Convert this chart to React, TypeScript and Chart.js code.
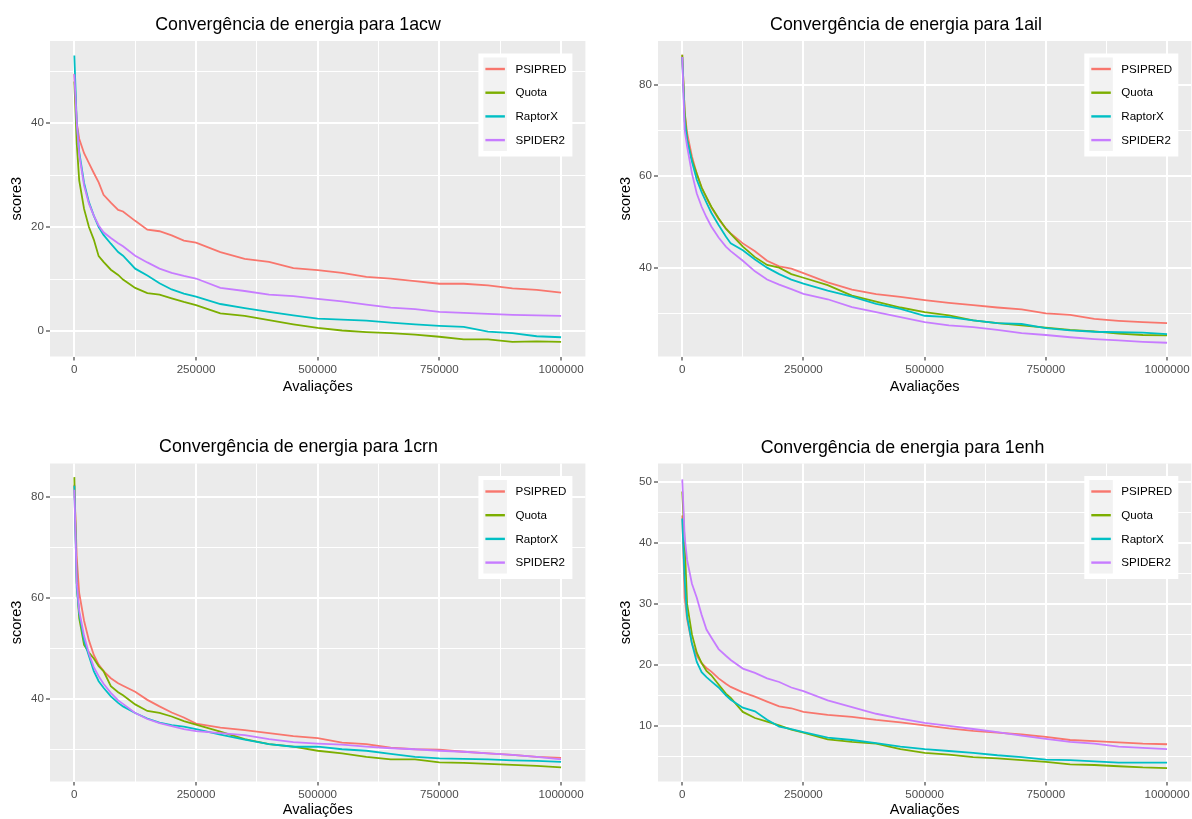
import React, { useEffect, useRef } from "react";
import { Chart, registerables } from "chart.js";

Chart.register(...registerables);

const FONT = '"Liberation Sans", Arial, Helvetica, sans-serif';

// ---------- data ----------
const evaluations = [
  0, 5000, 10000, 20000, 30000, 40000, 50000, 60000, 75000, 90000, 100000,
  125000, 150000, 175000, 200000, 225000, 250000, 300000, 350000, 400000,
  450000, 500000, 550000, 600000, 650000, 700000, 750000, 800000, 850000,
  900000, 950000, 1000000,
];

const methodNames = ["PSIPRED", "Quota", "RaptorX", "SPIDER2"];
const methodColors = ["#F8766D", "#7CAE00", "#00BFC4", "#C77CFF"];

const xMajorTicks = [0, 250000, 500000, 750000, 1000000];
const xMinorTicks = [125000, 375000, 625000, 875000];
const xLabel = "Avaliações";
const yLabel = "score3";

// 1acw
const acwPsipred = [49.5, 40, 37, 34.2, 32.3, 30.4, 28.6, 26.2, 24.7, 23.3, 23.0, 21.2, 19.5, 19.2, 18.4, 17.4, 17.0, 15.2, 13.9, 13.3, 12.1, 11.7, 11.2, 10.4, 10.1, 9.6, 9.1, 9.1, 8.8, 8.2, 7.9, 7.4];
const acwQuota = [48, 36, 29, 23.5, 20.0, 17.6, 14.4, 13.3, 11.8, 10.8, 9.9, 8.3, 7.3, 7.0, 6.3, 5.6, 5.0, 3.4, 2.9, 2.1, 1.3, 0.6, 0.1, -0.2, -0.4, -0.7, -1.1, -1.6, -1.6, -2.1, -2.0, -2.1];
const acwRaptorX = [53, 40, 34.5, 28.5, 24.8, 22.2, 20.0, 18.5, 16.8, 15.2, 14.5, 12.0, 10.7, 9.2, 8.0, 7.2, 6.6, 5.2, 4.4, 3.7, 3.0, 2.4, 2.2, 2.0, 1.6, 1.3, 1.0, 0.8, -0.1, -0.4, -1.0, -1.2];
const acwSpider2 = [49.4, 40, 34, 28, 24.5, 22.2, 20.3, 19.0, 17.9, 16.9, 16.3, 14.5, 13.2, 12.0, 11.2, 10.6, 10.1, 8.3, 7.7, 7.0, 6.7, 6.2, 5.7, 5.1, 4.5, 4.2, 3.7, 3.5, 3.3, 3.1, 3.0, 2.9];
const acwYMajor = [0, 20, 40];
const acwYMinor = [10, 30, 50];
const acwYRange = [-4.9, 55.8];

// 1ail
const ailPsipred = [86.5, 74, 69.4, 64.3, 60.5, 57.5, 55.2, 53.2, 50.6, 48.6, 47.5, 45.3, 43.6, 41.5, 40.3, 39.8, 38.8, 36.8, 35.2, 34.2, 33.6, 32.9, 32.3, 31.8, 31.3, 30.9, 30.0, 29.7, 28.8, 28.4, 28.1, 27.9];
const ailQuota = [86.5, 74, 68, 63.5, 60.5, 57.5, 55.4, 53.3, 50.8, 48.5, 47.4, 44.6, 42.3, 40.6, 40.0, 38.6, 37.8, 36.2, 33.9, 32.6, 31.3, 30.3, 29.6, 28.5, 27.9, 27.4, 26.9, 26.4, 26.1, 25.6, 25.3, 25.2];
const ailRaptorX = [86, 72, 67.9, 63.2, 59.2, 56.5, 54.2, 52.0, 49.3, 46.8, 45.3, 43.8, 41.8, 40.0, 38.6, 37.4, 36.5, 35.0, 33.7, 32.1, 31.0, 29.5, 29.2, 28.5, 27.9, 27.7, 26.8, 26.3, 26.0, 25.9, 25.8, 25.5];
const ailSpider2 = [86, 70, 66.5, 60.6, 56.2, 53.3, 51.0, 49.0, 46.6, 44.6, 43.6, 41.5, 39.2, 37.4, 36.3, 35.3, 34.3, 33.1, 31.4, 30.3, 29.2, 28.1, 27.4, 27.0, 26.4, 25.7, 25.3, 24.8, 24.4, 24.1, 23.8, 23.6];
const ailYMajor = [40, 60, 80];
const ailYMinor = [30, 50, 70];
const ailYRange = [20.6, 89.5];

// 1crn
const crnPsipred = [82.5, 68, 61, 55.5, 51.6, 48.7, 46.8, 45.5, 44.1, 43.1, 42.6, 41.4, 39.8, 38.5, 37.3, 36.3, 35.1, 34.3, 33.8, 33.2, 32.6, 32.2, 31.3, 31.0, 30.3, 30.0, 29.9, 29.5, 29.2, 28.9, 28.5, 28.3];
const crnQuota = [84, 63, 56, 50.7, 49.2, 48.0, 46.5, 45.5, 42.5, 41.3, 40.7, 38.9, 37.6, 37.2, 36.5, 35.6, 34.9, 33.5, 32.0, 31.0, 30.5, 29.7, 29.2, 28.5, 28.0, 28.0, 27.4, 27.3, 27.1, 26.9, 26.7, 26.4];
const crnRaptorX = [82.3, 62, 57, 51.5, 48.5, 45.5, 43.5, 42.2, 40.5, 39.2, 38.5, 37.2, 36.1, 35.3, 34.8, 34.5, 34.0, 32.9, 31.9, 31.0, 30.5, 30.5, 30.0, 29.7, 29.1, 28.5, 28.2, 28.1, 28.0, 27.8, 27.7, 27.5];
const crnSpider2 = [81.5, 63, 57.5, 52.5, 49, 46.3, 44.5, 43.0, 41.2, 39.7, 39.0, 37.2, 36.0, 35.2, 34.6, 34.0, 33.6, 33.2, 32.8, 32.0, 31.4, 31.1, 30.9, 30.5, 30.2, 30.0, 29.7, 29.5, 29.2, 28.9, 28.5, 28.0];
const crnYMajor = [40, 60, 80];
const crnYMinor = [30, 50, 70];
const crnYRange = [23.6, 86.7];

// 1enh
const enhPsipred = [44.5, 31, 27.5, 23.5, 21.5, 20.3, 19.5, 18.9, 17.8, 16.9, 16.4, 15.5, 14.8, 14.0, 13.2, 12.9, 12.3, 11.8, 11.5, 11.0, 10.6, 10.1, 9.6, 9.2, 8.9, 8.6, 8.2, 7.7, 7.5, 7.3, 7.1, 7.0];
const enhQuota = [48.4, 40, 30, 25, 22, 20.3, 19.0, 18.3, 16.8, 15.3, 14.6, 12.3, 11.3, 10.7, 10.1, 9.4, 8.9, 7.8, 7.4, 7.1, 6.2, 5.6, 5.3, 4.9, 4.7, 4.4, 4.1, 3.7, 3.6, 3.4, 3.2, 3.1];
const enhRaptorX = [44, 34, 28, 23.5, 20.5, 18.8, 18.0, 17.3, 16.3, 15.0, 14.3, 13.0, 12.4, 11.0, 9.9, 9.5, 9.0, 8.1, 7.7, 7.2, 6.6, 6.2, 5.9, 5.6, 5.2, 4.9, 4.5, 4.4, 4.2, 4.0, 4.0, 4.0];
const enhSpider2 = [50.4, 41, 37.2, 33.3, 31, 28.2, 25.8, 24.5, 22.6, 21.5, 20.8, 19.4, 18.7, 17.8, 17.2, 16.3, 15.7, 14.2, 13.1, 12.0, 11.2, 10.5, 10.0, 9.5, 9.0, 8.4, 7.9, 7.4, 7.1, 6.6, 6.4, 6.2];
const enhYMajor = [10, 20, 30, 40, 50];
const enhYMinor = [5, 15, 25, 35, 45];
const enhYRange = [0.9, 53.0];

// ---------- panel plugin (background, title, legend) ----------
const ggPanelPlugin = {
  id: "ggPanel",
  beforeDraw(chart: any, _args: any, opts: any) {
    const { ctx, chartArea: a } = chart;
    ctx.save();
    ctx.fillStyle = "#EBEBEB";
    ctx.fillRect(a.left, a.top, a.right - a.left, a.bottom - a.top);
    ctx.restore();
  },
  afterDraw(chart: any, _args: any, opts: any) {
    const { ctx, chartArea: a } = chart;
    ctx.save();
    ctx.fillStyle = "#000000";
    ctx.font = `17.8px ${FONT}`;
    ctx.textAlign = "center";
    ctx.textBaseline = "alphabetic";
    ctx.fillText(opts.title, opts.titleX, opts.titleY);

    const bw = 94;
    const bh = 103;
    const bx = a.right - 13 - bw;
    const by = a.top + 12.5;
    ctx.fillStyle = "#FFFFFF";
    ctx.fillRect(bx, by, bw, bh);
    ctx.fillStyle = "#F2F2F2";
    ctx.fillRect(bx + 5, by + 4, 23.5, 93.5);
    ctx.font = `11.6px ${FONT}`;
    ctx.textAlign = "left";
    ctx.textBaseline = "middle";
    chart.data.datasets.forEach((ds: any, i: number) => {
      const cy = by + 15.5 + i * 23.7;
      ctx.strokeStyle = ds.borderColor;
      ctx.lineWidth = 2.4;
      ctx.beginPath();
      ctx.moveTo(bx + 7, cy);
      ctx.lineTo(bx + 26.5, cy);
      ctx.stroke();
      ctx.fillStyle = "#000000";
      ctx.fillText(ds.label, bx + 37, cy + 0.5);
    });
    ctx.restore();
  },
};

type PanelProps = {
  title: string;
  series: number[][];
  yMajor: number[];
  yMinor: number[];
  yRange: number[];
  left: number;
  top: number;
  width: number;
  height: number;
  padTop: number;
  padRight: number;
  yAxisWidth: number;
  xAxisHeight: number;
  titleX: number;
  titleY: number;
  yTitlePad: number;
  xTitlePadBottom: number;
};

function Panel(p: PanelProps) {
  const ref = useRef<HTMLCanvasElement | null>(null);
  useEffect(() => {
    if (!ref.current) return;
    const xAll = [...xMajorTicks, ...xMinorTicks].sort((a, b) => a - b);
    const yAll = [...p.yMajor, ...p.yMinor].sort((a, b) => a - b);
    const chart = new Chart(ref.current, {
      type: "line",
      data: {
        datasets: methodNames.map((name, i) => ({
          label: name,
          data: evaluations.map((x, j) => ({ x, y: p.series[i][j] })),
          borderColor: methodColors[i],
          backgroundColor: methodColors[i],
          borderWidth: 1.8,
          pointRadius: 0,
          tension: 0,
          fill: false,
          order: 3 - i,
        })),
      },
      options: {
        animation: false,
        responsive: false,
        devicePixelRatio: 1,
        layout: { padding: { left: 0, right: p.padRight, top: p.padTop, bottom: 0 } },
        plugins: {
          legend: { display: false },
          tooltip: { enabled: false },
          title: { display: false },
          ggPanel: { title: p.title, titleX: p.titleX, titleY: p.titleY },
        } as any,
        scales: {
          x: {
            type: "linear",
            min: -50000,
            max: 1050000,
            afterBuildTicks: (s: any) => {
              s.ticks = xAll.map((v) => ({ value: v }));
            },
            afterFit: (s: any) => {
              s.height = p.xAxisHeight;
            },
            ticks: {
              autoSkip: false,
              maxRotation: 0,
              padding: 2,
              color: "#4D4D4D",
              font: { family: FONT, size: 11.6 },
              callback: (v: any) => (xMajorTicks.includes(v) ? String(v) : ""),
            },
            grid: {
              color: "#FFFFFF",
              lineWidth: (c: any) => (c.tick && xMajorTicks.includes(c.tick.value) ? 2 : 1),
              tickLength: 4,
              tickWidth: 1.1,
              tickColor: (c: any) =>
                c.tick && xMajorTicks.includes(c.tick.value) ? "#333333" : "rgba(0,0,0,0)",
            },
            border: { display: false },
            title: {
              display: true,
              text: xLabel,
              color: "#000000",
              font: { family: FONT, size: 14.5 },
              padding: { top: 0, bottom: p.xTitlePadBottom },
            },
          },
          y: {
            type: "linear",
            min: p.yRange[0],
            max: p.yRange[1],
            afterBuildTicks: (s: any) => {
              s.ticks = yAll.map((v) => ({ value: v }));
            },
            afterFit: (s: any) => {
              s.width = p.yAxisWidth;
            },
            ticks: {
              autoSkip: false,
              padding: 2,
              color: "#4D4D4D",
              font: { family: FONT, size: 11.6 },
              callback: (v: any) => (p.yMajor.includes(v) ? String(v) : ""),
            },
            grid: {
              color: "#FFFFFF",
              lineWidth: (c: any) => (c.tick && p.yMajor.includes(c.tick.value) ? 2 : 1),
              tickLength: 4,
              tickWidth: 1.1,
              tickColor: (c: any) =>
                c.tick && p.yMajor.includes(c.tick.value) ? "#333333" : "rgba(0,0,0,0)",
            },
            border: { display: false },
            title: {
              display: true,
              text: yLabel,
              color: "#000000",
              font: { family: FONT, size: 14.5 },
              padding: { top: p.yTitlePad, bottom: 0 },
            },
          },
        },
      },
      plugins: [ggPanelPlugin as any],
    });
    return () => chart.destroy();
  }, []);
  return (
    <canvas
      ref={ref}
      width={p.width}
      height={p.height}
      style={{ position: "absolute", left: p.left, top: p.top, width: p.width, height: p.height }}
    />
  );
}

export default function App() {
  return (
    <div
      style={{
        position: "fixed",
        left: 0,
        top: 0,
        width: 1192,
        height: 819,
        overflow: "hidden",
        background: "#FFFFFF",
      }}
    >
      <Panel
        title="Convergência de energia para 1acw"
        series={[acwPsipred, acwQuota, acwRaptorX, acwSpider2]}
        yMajor={acwYMajor}
        yMinor={acwYMinor}
        yRange={acwYRange}
        left={0}
        top={0}
        width={596}
        height={409}
        padTop={41}
        padRight={10.6}
        yAxisWidth={50}
        xAxisHeight={52.5}
        titleX={298}
        titleY={29.5}
        yTitlePad={7.8}
        xTitlePadBottom={13.8}
      />
      <Panel
        title="Convergência de energia para 1ail"
        series={[ailPsipred, ailQuota, ailRaptorX, ailSpider2]}
        yMajor={ailYMajor}
        yMinor={ailYMinor}
        yRange={ailYRange}
        left={596}
        top={0}
        width={596}
        height={409}
        padTop={41}
        padRight={0.7}
        yAxisWidth={62}
        xAxisHeight={52.5}
        titleX={310}
        titleY={29.5}
        yTitlePad={21.3}
        xTitlePadBottom={13.8}
      />
      <Panel
        title="Convergência de energia para 1crn"
        series={[crnPsipred, crnQuota, crnRaptorX, crnSpider2]}
        yMajor={crnYMajor}
        yMinor={crnYMinor}
        yRange={crnYRange}
        left={0}
        top={409}
        width={596}
        height={410}
        padTop={54.5}
        padRight={10.6}
        yAxisWidth={50}
        xAxisHeight={37.5}
        titleX={298.5}
        titleY={42.5}
        yTitlePad={7.8}
        xTitlePadBottom={0}
      />
      <Panel
        title="Convergência de energia para 1enh"
        series={[enhPsipred, enhQuota, enhRaptorX, enhSpider2]}
        yMajor={enhYMajor}
        yMinor={enhYMinor}
        yRange={enhYRange}
        left={596}
        top={409}
        width={596}
        height={410}
        padTop={54.5}
        padRight={0.7}
        yAxisWidth={62}
        xAxisHeight={37.5}
        titleX={306.5}
        titleY={43.5}
        yTitlePad={21.3}
        xTitlePadBottom={0}
      />
    </div>
  );
}
